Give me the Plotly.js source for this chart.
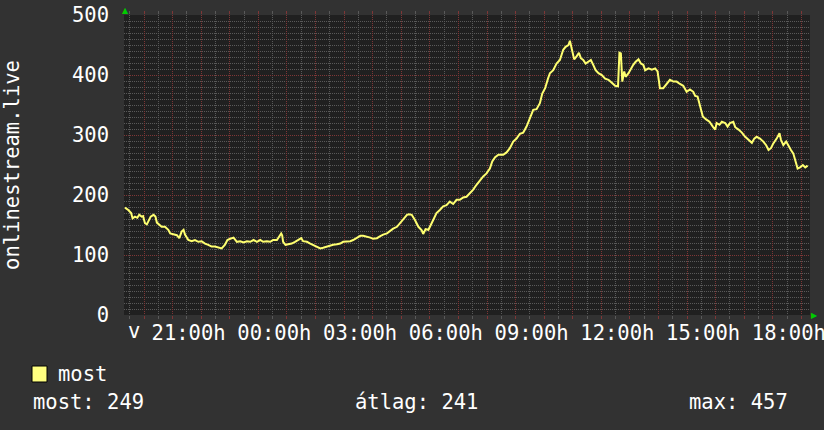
<!DOCTYPE html>
<html>
<head>
<meta charset="utf-8">
<script src="https://cdn.plot.ly/plotly-3.0.1.min.js"></script>
<style>
  html, body { margin: 0; padding: 0; background: #323232; }
  #chart { width: 824px; height: 430px; }
</style>
</head>
<body>
<div id="chart"></div>
<script>
// Time of each sample (local time, the series runs across midnight)
const times = [
  "19:20","19:27","19:33","19:36","19:41","19:46","19:50","19:55","19:58","20:02",
  "20:06","20:09","20:14","20:20","20:24","20:27","20:32","20:37","20:44","20:51",
  "20:55","21:02","21:09","21:14","21:19","21:23","21:26","21:33","21:40","21:47",
  "21:54","22:01","22:08","22:15","22:22","22:29","22:36","22:43","22:50","22:55",
  "23:01","23:08","23:15","23:22","23:29","23:36","23:43","23:50","23:57","00:04",
  "00:10","00:18","00:25","00:31","00:39","00:43","00:48","00:50","00:52","00:57",
  "01:03","01:10","01:17","01:24","01:30","01:34","01:42","01:49","01:55","02:03",
  "02:10","02:16","02:24","02:31","02:37","02:45","02:52","02:58","03:06","03:13",
  "03:19","03:27","03:34","03:40","03:48","03:55","04:01","04:09","04:15","04:22",
  "04:30","04:36","04:43","04:51","04:57","05:04","05:12","05:16","05:22","05:29",
  "05:36","05:43","05:46","05:51","05:57","06:02","06:07","06:14","06:21","06:28",
  "06:35","06:42","06:49","06:56","07:03","07:10","07:17","07:24","07:31","07:38",
  "07:45","07:52","07:59","08:06","08:11","08:17","08:24","08:34","08:41","08:48",
  "08:55","09:02","09:09","09:16","09:23","09:30","09:37","09:44","09:51","09:56",
  "10:02","10:08","10:12","10:19","10:26","10:33","10:37","10:40","10:45","10:51",
  "10:54","10:58","11:03","11:08","11:13","11:17","11:22","11:27","11:33","11:38",
  "11:43","11:48","11:54","12:01","12:08","12:15","12:22","12:29","12:35","12:38",
  "12:41","12:44","12:48","12:51","12:57","13:02","13:07","13:12","13:18","13:23",
  "13:28","13:32","13:39","13:46","13:53","13:58","14:03","14:10","14:17","14:24",
  "14:31","14:38","14:45","14:52","14:59","15:06","15:13","15:17","15:22","15:26",
  "15:29","15:33","15:40","15:47","15:54","15:59","16:02","16:08","16:13","16:20",
  "16:25","16:30","16:37","16:41","16:48","16:55","17:02","17:09","17:16","17:21",
  "17:26","17:33","17:40","17:46","17:51","17:56","18:01","18:08","18:14","18:17",
  "18:22","18:28","18:33","18:38","18:43","18:47","18:52","18:57","19:03","19:08",
  "19:13"
];
// Listeners ("most") at each sample
const listeners = [
  179,175,170,161,164,162,167,164,165,153,
  151,155,164,167,164,154,151,147,147,142,
  136,134,133,128,139,142,134,125,123,125,
  122,123,119,117,114,114,112,111,117,125,
  127,129,122,123,121,123,122,125,122,125,
  122,123,122,125,125,130,136,133,122,117,
  118,119,122,125,128,123,122,119,117,114,
  111,112,114,116,117,118,119,122,122,123,
  125,128,132,132,131,129,127,128,131,134,
  136,140,144,147,153,158,167,168,167,158,
  147,141,135,143,142,150,158,170,175,181,
  183,189,185,192,192,196,197,203,209,217,
  224,231,236,244,256,263,267,267,271,278,
  289,294,302,304,314,328,342,343,353,369,
  378,394,403,408,419,425,436,442,447,450,
  457,442,426,431,437,428,425,419,422,425,
  417,408,403,400,394,392,387,382,381,437,
  436,389,406,397,403,411,417,422,426,419,
  417,408,411,409,411,406,378,378,386,392,
  389,389,385,382,372,376,372,365,364,353,
  342,331,326,322,314,309,320,317,322,320,
  314,320,322,313,309,304,297,292,287,294,
  297,294,289,283,275,278,286,294,303,292,
  283,289,281,275,269,258,244,246,250,246,
  249
];
// Hour tick labels (every 3 hours) and the hour each sits on
const tickHours  = [21, 24, 27, 30, 33, 36, 39, 42];
const tickLabels = ["21:00h","00:00h","03:00h","06:00h","09:00h","12:00h","15:00h","18:00h"];
const dayLabel = "v";
const seriesName = "most";
const yTitle = "onlinestream.live";
// Summary figures printed below the chart
const statNow = 249;
const statAvg = 241;
const statMax = 457;
const windowStart = 19.3;   // 19:18
const windowHours = 24;

// parse "HH:MM" to continuous hours
const xs = [];
let dayOffset = 0, prev = -1;
times.forEach(t => {
  const [h, m] = t.split(":").map(Number);
  let v = h + m / 60;
  if (v + dayOffset < prev) dayOffset += 24;
  v += dayOffset;
  prev = v;
  xs.push(v);
});

const hourVals = [], hourText = [];
for (let h = Math.ceil(windowStart); h <= windowStart + windowHours; h++) {
  hourVals.push(h);
  const i = tickHours.indexOf(h);
  hourText.push(i >= 0 ? tickLabels[i] : "");
}

const FONT = "DejaVu Sans Mono, monospace";
const RED = "#7e3636";
const GRAY = "#595959";

const trace = {
  type: "scatter", mode: "lines",
  x: xs, y: listeners, name: seriesName,
  line: { color: "#ffff70", width: 2, shape: "linear" },
  hoverinfo: "skip", showlegend: false
};

const layout = {
  width: 824, height: 430,
  paper_bgcolor: "#323232",
  plot_bgcolor: "#202020",
  margin: { l: 124, r: 14, t: 15, b: 115 },
  font: { family: FONT, size: 20.5, color: "#ffffff" },
  showlegend: false,
  xaxis: {
    range: [windowStart, windowStart + windowHours],
    tickmode: "array", tickvals: hourVals, ticktext: hourText,
    showgrid: true, gridcolor: RED, griddash: "1px,1px", gridwidth: 1,
    ticks: "outside", ticklen: 3, tickcolor: RED, mirror: "ticks",
    ticklabelshift: 16, ticklabelstandoff: -4, ticklabeloverflow: "allow",
    showline: false, zeroline: false,
    tickfont: { family: FONT, size: 20.5, color: "#ffffff" },
    minor: { dtick: 0.5, tick0: 0, showgrid: true, gridcolor: GRAY, griddash: "1px,1px",
             ticks: "outside", ticklen: 3, tickcolor: GRAY }
  },
  yaxis: {
    range: [0, 500], dtick: 100, tick0: 0,
    showgrid: true, gridcolor: RED, griddash: "1px,1px",
    ticks: "", ticklabelstandoff: 14,
    showline: false, zeroline: false,
    tickfont: { family: FONT, size: 20.5, color: "#ffffff" },
    title: { text: yTitle, font: { family: FONT, size: 20.5, color: "#ffffff" }, standoff: 46 },
    minor: { dtick: 10, showgrid: true, gridcolor: GRAY, griddash: "1px,1px" }
  },
  shapes: [
    { type: "rect", xref: "paper", yref: "paper", xsizemode: "pixel", ysizemode: "pixel",
      xanchor: 0, yanchor: 0, x0: -92, x1: -77, y0: -67, y1: -51,
      fillcolor: "#ffff80", line: { color: "#000000", width: 1 } }
  ],
  annotations: [
    { text: dayLabel, xref: "paper", yref: "paper", x: 0, y: 0, xanchor: "left", yanchor: "middle",
      xshift: 2, yshift: -16, showarrow: false, font: { family: FONT, size: 20.5, color: "#ffffff" } },
    { text: seriesName, xref: "paper", yref: "paper", x: 0, y: 0, xanchor: "left", yanchor: "middle",
      xshift: -68, yshift: -59, showarrow: false, font: { family: FONT, size: 20.5, color: "#ffffff" } },
    { text: "most: " + statNow, xref: "paper", yref: "paper", x: 0, y: 0, xanchor: "left", yanchor: "middle",
      xshift: -93, yshift: -87, showarrow: false, font: { family: FONT, size: 20.5, color: "#ffffff" } },
    { text: "átlag: " + statAvg, xref: "paper", yref: "paper", x: 0, y: 0, xanchor: "left", yanchor: "middle",
      xshift: 229, yshift: -87, showarrow: false, font: { family: FONT, size: 20.5, color: "#ffffff" } },
    { text: "max: " + statMax, xref: "paper", yref: "paper", x: 0, y: 0, xanchor: "left", yanchor: "middle",
      xshift: 563, yshift: -87, showarrow: false, font: { family: FONT, size: 20.5, color: "#ffffff" } },
    { text: "▲", xref: "paper", yref: "paper", x: 0, y: 1, xanchor: "center", yanchor: "bottom",
      xshift: 1, yshift: -2, showarrow: false, font: { family: "DejaVu Sans", size: 8, color: "#00cc00" } },
    { text: "▶", xref: "paper", yref: "paper", x: 1, y: 0, xanchor: "left", yanchor: "middle",
      xshift: -1, yshift: 0, showarrow: false, font: { family: "DejaVu Sans", size: 8, color: "#00cc00" } }
  ]
};

Plotly.newPlot("chart", [trace], layout, { staticPlot: true, displayModeBar: false });
</script>
</body>
</html>
